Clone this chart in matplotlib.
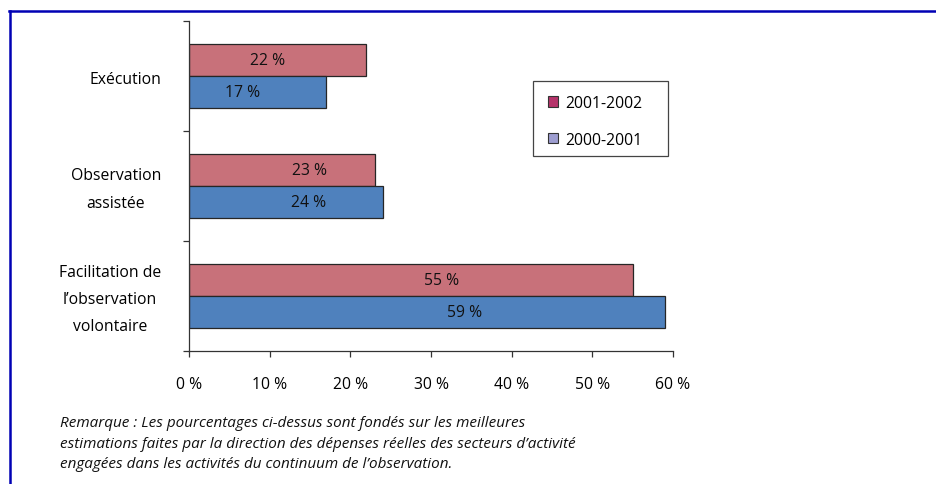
import matplotlib
matplotlib.use("Agg")
import matplotlib.pyplot as plt
from matplotlib.lines import Line2D
from matplotlib.patches import Patch, Rectangle
from matplotlib.transforms import ScaledTranslation

categories = ["Exécution", "Observation\nassistée", "Facilitation de\nl\u2019observation\nvolontaire"]
series_names = ["2001-2002", "2000-2001"]
values_2001_2002 = [22, 23, 55]
values_2000_2001 = [17, 24, 59]
xticks = [0, 10, 20, 30, 40, 50, 60]
xtick_labels = ["0 %", "10 %", "20 %", "30 %", "40 %", "50 %", "60 %"]
note = ("Remarque : Les pourcentages ci-dessus sont fondés sur les meilleures\n"
        "estimations faites par la direction des dépenses réelles des secteurs d\u2019activité\n"
        "engagées dans les activités du continuum de l\u2019observation.")

plt.rcParams['font.family'] = ['Open Sans', 'DejaVu Sans']

W, H = 936, 485
FS = 11.3
fig = plt.figure(figsize=(W / 100, H / 100), dpi=100)
ax = fig.add_axes([189 / W, 1 - 352 / H, (673 - 189) / W, (352 - 22) / H])

bar_colors = ["#c8717a", "#4f81bd"]
legend_colors = ["#b5336a", "#9d9dd0"]
h = 0.29
ys = list(range(len(categories)))
# label positions as fraction of bar length (as in the source)
label_pos = [[0.44, 0.65, 0.57], [0.39, 0.62, 0.578]]
for si, vals in enumerate([values_2001_2002, values_2000_2001]):
    offs = -h / 2 if si == 0 else h / 2
    pos = [y + offs for y in ys]
    ax.barh(pos, vals, height=h, color=bar_colors[si], edgecolor="#262626", linewidth=0.9)
    for p, v, f in zip(pos, vals, label_pos[si]):
        ax.text(v * f, p, f"{v} %", ha="center", va="center", fontsize=FS, color="#111111")

ax.set_xlim(0, 60)
ax.set_ylim(len(categories) - 0.5, -0.5)
ax.set_xticks(xticks)
ax.set_xticklabels(xtick_labels, fontsize=FS)
ax.set_yticks([-0.5, 0.5, 1.5, 2.5])
ax.set_yticklabels([])
ax.set_yticks(ys, minor=True)
ax.set_yticklabels(categories, minor=True, fontsize=FS, ha="right", va="center",
                   multialignment="center", linespacing=1.95)
ax.tick_params(axis="y", which="minor", length=0, pad=20)
ax.tick_params(axis="y", which="major", length=4.5, width=0.9, color="#333333", direction="out")
ax.tick_params(axis="x", length=4.5, width=0.9, color="#333333", direction="out", pad=13.5)
for s in ["top", "right"]:
    ax.spines[s].set_visible(False)
for s in ["left", "bottom"]:
    ax.spines[s].set_color("#333333")
    ax.spines[s].set_linewidth(0.9)
shift = ScaledTranslation(0, -3 / 100, fig.dpi_scale_trans)
for lab in ax.get_yticklabels(minor=True):
    lab.set_transform(lab.get_transform() + shift)

# legend frame drawn separately to match the source box size
fig.add_artist(Rectangle((533 / W, 1 - 157 / H), (668 - 533) / W, (157 - 82) / H,
                         transform=fig.transFigure, facecolor="white", edgecolor="#444444", linewidth=0.9))
handles = [Patch(facecolor=legend_colors[i], edgecolor="#333333", linewidth=0.8, label=series_names[i]) for i in range(2)]
leg = fig.legend(handles=handles, loc="upper left", bbox_to_anchor=(548 / W, 1 - 96 / H),
                 bbox_transform=fig.transFigure, borderaxespad=0, fancybox=False, fontsize=FS,
                 handlelength=0.65, handleheight=0.65, handletextpad=0.45, labelspacing=1.32,
                 borderpad=0.0, frameon=False)

fig.text(60 / W, 1 - 416 / H, note, ha="left", va="top", fontsize=11, style="italic",
         linespacing=1.52, color="#111111")

fig.add_artist(Line2D([9 / W, 1], [1 - 12 / H, 1 - 12 / H], transform=fig.transFigure, color="#0000b4", lw=1.8))
fig.add_artist(Line2D([9.5 / W, 9.5 / W], [0, 1 - 12 / H], transform=fig.transFigure, color="#0000b4", lw=1.8))

fig.savefig("out.png", dpi=100)
